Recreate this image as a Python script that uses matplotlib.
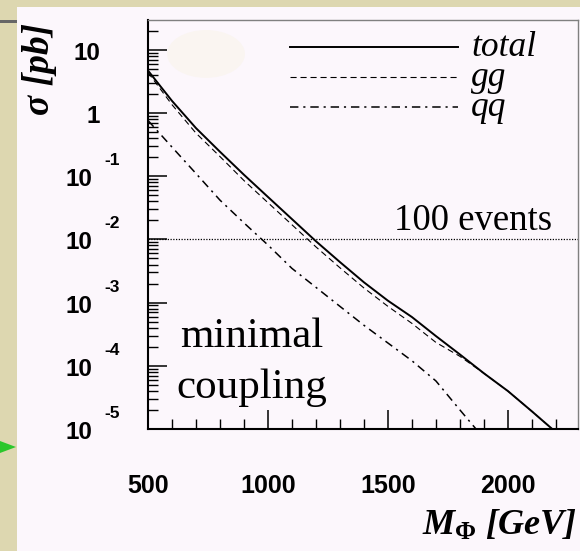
import numpy as np
import matplotlib
matplotlib.use("Agg")
import matplotlib.pyplot as plt
from matplotlib.patches import Rectangle, Polygon, Ellipse
from matplotlib.ticker import MultipleLocator, LogLocator, NullFormatter

# mathtext in bold italic times-like font for the axis title
plt.rcParams["mathtext.fontset"] = "custom"
plt.rcParams["mathtext.it"] = "Liberation Serif:italic:bold"
plt.rcParams["mathtext.rm"] = "Liberation Serif:bold"
plt.rcParams["mathtext.bf"] = "Liberation Serif:bold"

# cross sections in pb
mass = [500, 600, 700, 800, 900, 1000, 1100, 1200, 1300, 1400,
        1500, 1600, 1700, 1800, 1900, 2000, 2100, 2200]
sigma_total = [4.68, 1.55, 0.575, 0.243, 0.105, 0.0468, 0.0209, 0.00933,
               0.00437, 0.00209, 0.00107, 5.9e-4, 2.95e-4, 1.51e-4,
               7.6e-5, 3.98e-5, 1.9e-5, 8.9e-6]
sigma_gg = [4.37, 1.35, 0.479, 0.204, 0.0851, 0.038, 0.017, 0.00759,
            0.00355, 0.0017, 8.7e-4, 4.68e-4, 2.34e-4, 1.41e-4,
            7.6e-5, 3.98e-5, 1.9e-5, 8.9e-6]
mass_qq = [500, 600, 700, 800, 900, 1000, 1100, 1200, 1300, 1400,
           1500, 1600, 1700, 1800, 1900]
sigma_qq = [0.76, 0.288, 0.11, 0.0417, 0.0182, 0.00813, 0.00347, 0.00174,
            8.7e-4, 4.37e-4, 2.29e-4, 1.2e-4, 5.75e-5, 2.0e-5, 7.1e-6]

labels = ["total", "gg", "qq"]
x_ticks = [500, 1000, 1500, 2000]
y_exponents = [1, 0, -1, -2, -3, -4, -5]
events_level = 1e-2   # 100 events line

W, H = 580, 551
def fx(px): return px / W
def fy(py): return 1 - py / H

fig = plt.figure(figsize=(5.8, 5.51), dpi=100)
fig.patch.set_facecolor("#DDD7B0")

# slide decoration: white panel, grey bar, green bullet (behind the axes)
fig.patches.append(Rectangle((fx(17), 0), 1 - fx(17), fy(7), transform=fig.transFigure,
                             facecolor="#FCF7FC", edgecolor="none", zorder=-3))
fig.patches.append(Rectangle((0, fy(23)), fx(17), 3.5 / H, transform=fig.transFigure,
                             facecolor="#666666", edgecolor="none", zorder=-2))
fig.patches.append(Polygon([(0, fy(441)), (fx(16), fy(447)), (0, fy(453))],
                           closed=True, transform=fig.transFigure,
                           facecolor="#2BC72B", edgecolor="none", zorder=-2))

ax = fig.add_axes([fx(148), fy(429), fx(578) - fx(148), (429 - 20) / H])
ax.set_facecolor("#FCF7FC")
ax.add_patch(Ellipse((0.135, 0.917), 0.181, 0.117, transform=ax.transAxes,
                     facecolor="#FAF5F1", edgecolor="none", zorder=0))

ax.plot(mass, sigma_total, color="black", lw=1.4, ls="-", label=labels[0])
ax.plot(mass, sigma_gg, color="black", lw=0.8, ls=(0, (5.5, 3.5)), label=labels[1])
ax.plot(mass_qq, sigma_qq, color="black", lw=1.1, ls=(0, (5.5, 3.2, 1.4, 3.2)), label=labels[2])
ax.axhline(events_level, color="black", lw=0.9, ls=(0, (1, 1.2)))

ax.set_yscale("log")
ax.set_xlim(500, 2292)
ax.set_ylim(1e-5, 10 ** 1.47)

ax.xaxis.set_major_locator(MultipleLocator(500))
ax.xaxis.set_minor_locator(MultipleLocator(100))
ax.yaxis.set_major_locator(LogLocator(base=10, numticks=20))
ax.yaxis.set_minor_locator(LogLocator(base=10, subs=np.arange(2, 10), numticks=20))
ax.yaxis.set_minor_formatter(NullFormatter())

ax.tick_params(which="both", direction="in", top=False, right=False)
ax.tick_params(which="major", length=13.5, width=1.1)
ax.tick_params(which="minor", length=7, width=1.0)
ax.tick_params(axis="x", pad=32.5)
ax.tick_params(axis="y", labelleft=False)
ax.set_xticks(x_ticks, labels=[str(t) for t in x_ticks], fontfamily="Liberation Sans",
              fontweight="bold", fontsize=18)

for side in ["left", "bottom"]:
    ax.spines[side].set_linewidth(1.5)
for side in ["top", "right"]:
    ax.spines[side].set_linewidth(1.0)
    ax.spines[side].set_color("#808080")

# y tick labels drawn as 10 with a detached exponent, like the PAW original
for e in y_exponents:
    if e >= 0:
        txt = "10" if e == 1 else "1"
        ax.annotate(txt, xy=(0, 10.0 ** e), xycoords=("axes fraction", "data"),
                    xytext=(-48 * 0.72, -10 * 0.72), textcoords="offset points",
                    ha="right", va="baseline", fontsize=17.5, fontweight="bold",
                    fontfamily="Liberation Sans")
    else:
        ax.annotate("10", xy=(0, 10.0 ** e), xycoords=("axes fraction", "data"),
                    xytext=(-56 * 0.72, -10 * 0.72), textcoords="offset points",
                    ha="right", va="baseline", fontsize=17.5, fontweight="bold",
                    fontfamily="Liberation Sans")
        ax.annotate(str(e), xy=(0, 10.0 ** e), xycoords=("axes fraction", "data"),
                    xytext=(-44 * 0.72, 11 * 0.72), textcoords="offset points",
                    ha="left", va="baseline", fontsize=12.5, fontweight="bold",
                    fontfamily="Liberation Sans")

leg = ax.legend(loc="upper left", bbox_to_anchor=(0.330, 0.974), frameon=False,
                borderpad=0, borderaxespad=0, handlelength=4.75, handletextpad=0.37,
                handleheight=0, labelspacing=-0.085,
                prop={"family": "Liberation Serif", "style": "italic", "size": 25.5})

ax.text(2183, 10 ** -1.85, "100 events", ha="right", va="baseline",
        fontsize=26.5, fontfamily="Liberation Serif")
ax.text(933, 10 ** -3.70, "minimal", ha="center", va="baseline",
        fontsize=31, fontfamily="Liberation Serif")
ax.text(933, 10 ** -4.506, "coupling", ha="center", va="baseline",
        fontsize=31, fontfamily="Liberation Serif")

ax.set_ylabel("σ [pb]", fontsize=27, fontfamily="Liberation Serif",
              fontweight="bold", fontstyle="italic")
ax.yaxis.set_label_coords(-0.2116, 0.881)
ax.set_xlabel(r"$M_{\Phi}$ [GeV]", fontsize=26, fontfamily="Liberation Serif",
              fontweight="bold", fontstyle="italic", ha="right", va="baseline")
ax.xaxis.set_label_coords(0.998, -0.259)

plt.savefig("out.png", dpi=100, facecolor=fig.get_facecolor())
